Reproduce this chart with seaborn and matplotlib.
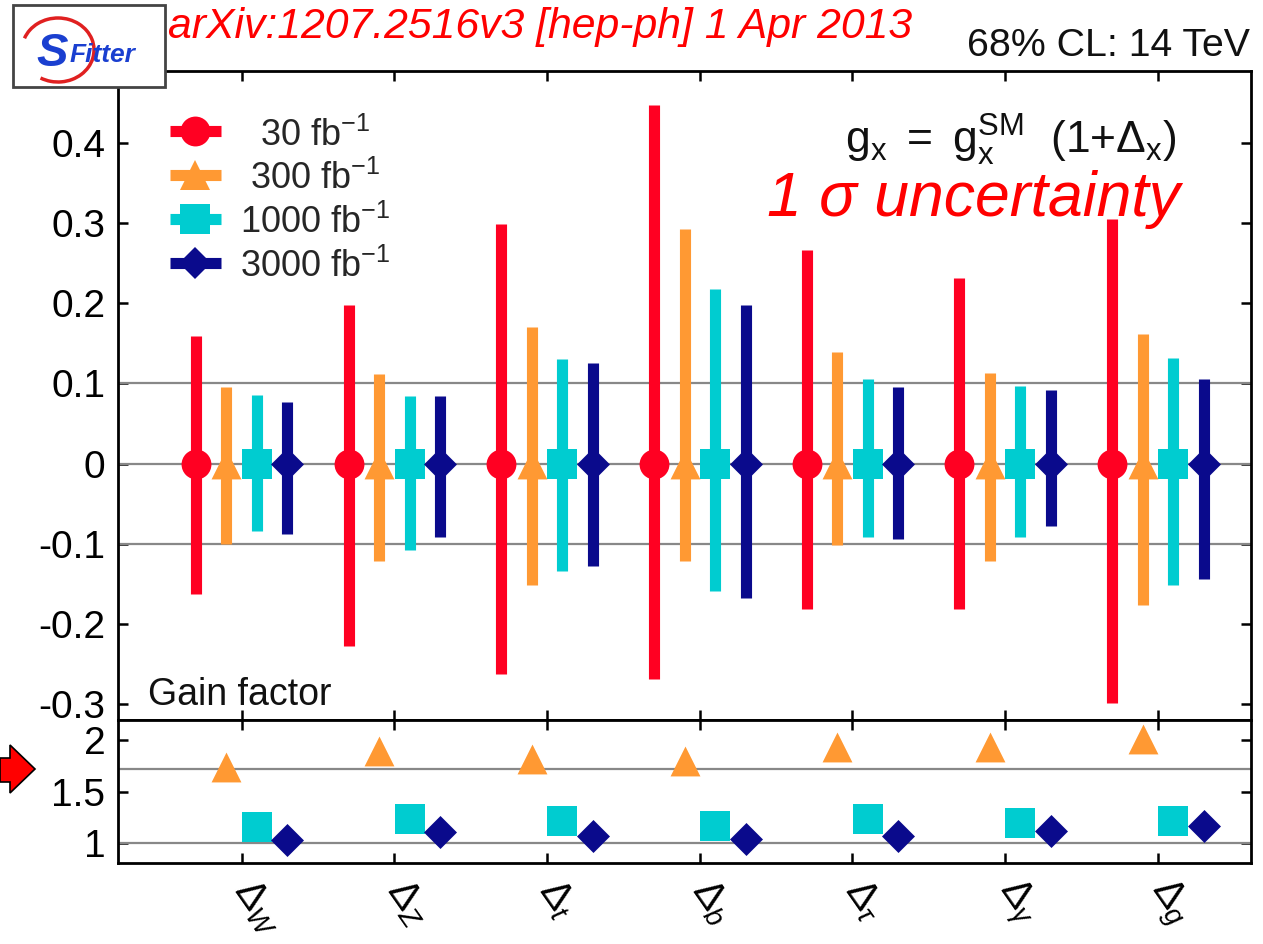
import numpy as np
import pandas as pd
import matplotlib
matplotlib.use("Agg")
import matplotlib.pyplot as plt
import seaborn as sns
from matplotlib.lines import Line2D
from matplotlib.patches import Polygon, Rectangle, Arc

# ---------------- data ----------------
categories = ["W", "Z", "t", "b", "tau", "gamma", "g"]
tick_labels = [r"$\mathrm{\Delta}_W$", r"$\mathrm{\Delta}_Z$", r"$\mathrm{\Delta}_t$",
               r"$\mathrm{\Delta}_b$", r"$\mathrm{\Delta}_\tau$", r"$\mathrm{\Delta}_\gamma$",
               r"$\mathrm{\Delta}_g$"]
series_labels = ["  30 fb$^{-1}$", " 300 fb$^{-1}$", "1000 fb$^{-1}$", "3000 fb$^{-1}$"]

up_30 = [0.159, 0.198, 0.299, 0.448, 0.267, 0.232, 0.305]
dn_30 = [-0.163, -0.228, -0.262, -0.269, -0.181, -0.181, -0.299]
up_300 = [0.096, 0.112, 0.170, 0.293, 0.139, 0.113, 0.162]
dn_300 = [-0.100, -0.122, -0.151, -0.121, -0.102, -0.122, -0.176]
up_1000 = [0.086, 0.085, 0.130, 0.218, 0.105, 0.097, 0.132]
dn_1000 = [-0.084, -0.108, -0.134, -0.159, -0.092, -0.092, -0.151]
up_3000 = [0.077, 0.084, 0.125, 0.198, 0.095, 0.092, 0.106]
dn_3000 = [-0.088, -0.092, -0.128, -0.168, -0.094, -0.078, -0.144]
central = [0, 0, 0, 0, 0, 0, 0]

gain_300 = [1.74, 1.90, 1.82, 1.80, 1.94, 1.94, 2.01]
gain_1000 = [1.155, 1.23, 1.21, 1.165, 1.234, 1.195, 1.21]
gain_3000 = [1.03, 1.105, 1.06, 1.035, 1.06, 1.115, 1.16]
gain_ref_line = 1.72

top_yticks = [-0.3, -0.2, -0.1, 0, 0.1, 0.2, 0.3, 0.4]
top_ytick_labels = ["-0.3", "-0.2", "-0.1", "0", "0.1", "0.2", "0.3", "0.4"]
bot_yticks = [1, 1.5, 2]
bot_ytick_labels = ["1", "1.5", "2"]

# ---------------- style ----------------
colors = ["#ff0022", "#ff9933", "#00ccd0", "#0a0a8c"]
markers = ["o", "^", "s", "D"]
msizes = [21.5, 21.5, 21.0, 16.8]
offsets = [-0.3, -0.1, 0.1, 0.3]

sns.set_theme(style="white")
plt.rcParams["font.family"] = ["Liberation Sans", "DejaVu Sans"]
plt.rcParams["mathtext.fontset"] = "custom"
plt.rcParams["mathtext.rm"] = "Liberation Sans"
plt.rcParams["mathtext.it"] = "Liberation Sans:italic"
plt.rcParams["mathtext.bf"] = "Liberation Sans:bold"

W, H = 1263, 944
fig = plt.figure(figsize=(W / 100, H / 100), dpi=100)


def fx(x):
    return x / W


def fy(y):
    return 1 - y / H


L, R = 118, 1251
T1, B1, B2 = 71, 720, 863
ax1 = fig.add_axes([fx(L), fy(B1), fx(R) - fx(L), fy(T1) - fy(B1)])
ax2 = fig.add_axes([fx(L), fy(B2), fx(R) - fx(L), fy(B1) - fy(B2)])

ups = [up_30, up_300, up_1000, up_3000]
dns = [dn_30, dn_300, dn_1000, dn_3000]
gains = [None, gain_300, gain_1000, gain_3000]

rows = []
for si in range(4):
    for ci, cat in enumerate(categories):
        rows.append(dict(series=si, cat=cat, x=ci + offsets[si], y=central[ci],
                         up=ups[si][ci], dn=dns[si][ci],
                         gain=(gains[si][ci] if gains[si] is not None else np.nan)))
df = pd.DataFrame(rows)

xlim = (-0.81, 6.61)
for ax in (ax1, ax2):
    ax.set_xlim(*xlim)
    for s in ax.spines.values():
        s.set_linewidth(2.0)
        s.set_color("black")
        s.set_visible(True)

for y in [-0.1, 0, 0.1]:
    ax1.axhline(y, color="#888888", lw=1.6, zorder=1)
for y in [1.0, gain_ref_line]:
    ax2.axhline(y, color="#888888", lw=1.6, zorder=1)

for si in range(4):
    d = df[df.series == si]
    ax1.vlines(d.x, d.dn, d.up, colors=colors[si], linewidth=8, capstyle="butt",
               zorder=2 + si)
    sns.scatterplot(data=d, x="x", y="y", ax=ax1, color=colors[si], marker=markers[si],
                    s=msizes[si] ** 2, linewidth=0, zorder=2.5 + si, legend=False)
    if si > 0:
        sns.scatterplot(data=d, x="x", y="gain", ax=ax2, color=colors[si],
                        marker=markers[si], s=msizes[si] ** 2, linewidth=0,
                        zorder=3 + si, legend=False)

ax1.set_ylim(-0.32, 0.49)
ax2.set_ylim(0.8, 2.2)
ax1.set_yticks(top_yticks)
ax1.set_yticklabels(top_ytick_labels)
ax2.set_yticks(bot_yticks)
ax2.set_yticklabels(bot_ytick_labels)
for ax in (ax1, ax2):
    ax.set_xticks(range(len(categories)))
    ax.set_xlabel("")
    ax.set_ylabel("")
    ax.tick_params(axis="both", which="major", direction="in", length=7, width=1.8,
                   top=True, bottom=True, left=True, right=True, labelsize=28,
                   colors="black", pad=9)
ax1.tick_params(axis="x", labelbottom=False)
ax2.set_xticklabels(tick_labels, rotation=-55, ha="left", va="center",
                    rotation_mode="anchor", fontsize=28.5)
ax2.tick_params(axis="x", pad=15)

# legend
handles = [Line2D([], [], color=colors[i], lw=8, marker=markers[i],
                  markersize=msizes[i], markeredgewidth=0, solid_capstyle="butt")
           for i in range(4)]
leg = ax1.legend(handles, series_labels, loc="upper left",
                 bbox_to_anchor=((170 - L) / (R - L), 1 - (117 - T1) / (B1 - T1)),
                 frameon=False, fontsize=26, borderpad=0, borderaxespad=0,
                 handlelength=1.4, handletextpad=0.55, labelspacing=0.2,
                 handleheight=1.0)

# texts
fig.text(fx(168), fy(38), "arXiv:1207.2516v3 [hep-ph] 1 Apr 2013", color="#ff0000",
         fontsize=30.8, style="italic", ha="left", va="baseline")
fig.text(fx(1250), fy(56), "68% CL: 14 TeV", color="#111111", fontsize=28.3,
         ha="right", va="baseline")
fig.text(fx(1177), fy(154), r"$\mathregular{g_x\ =\ g_x^{SM}\ \ (1{+}\Delta_x)}$",
         color="#111111", fontsize=32, ha="right", va="baseline")
fig.text(fx(1180), fy(216), "1 σ uncertainty", color="#ff0000", fontsize=45,
         style="italic", ha="right", va="baseline")
fig.text(fx(148), fy(705), "Gain factor", color="#111111", fontsize=27,
         ha="left", va="baseline")

# logo
fig.patches.append(Rectangle((fx(13), fy(87)), fx(152), fy(5) - fy(87), transform=fig.transFigure,
                             facecolor="white", edgecolor="#444444", lw=2, zorder=5))
fig.patches.append(Arc((fx(58), fy(50)), fx(72), 64 / H, theta1=-115, theta2=155,
                       transform=fig.transFigure, color="#e02020", lw=2.5, zorder=6))
fig.text(fx(36), fy(66), "S", color="#1a3fd0", fontsize=34, fontweight="bold",
         style="italic", ha="left", va="baseline", zorder=7)
fig.text(fx(70), fy(62), "Fitter", color="#1a3fd0", fontsize=19, fontweight="bold",
         style="italic", ha="left", va="baseline", zorder=7)

# red arrow
arrow_px = [(0, 758), (10, 758), (10, 745), (35, 769), (10, 793), (10, 782), (0, 782)]
fig.patches.append(Polygon([(fx(a), fy(b)) for a, b in arrow_px], closed=True,
                           transform=fig.transFigure, facecolor="#ff0000",
                           edgecolor="black", lw=1.2, zorder=6))

fig.savefig("out.png", dpi=100, facecolor="white")
